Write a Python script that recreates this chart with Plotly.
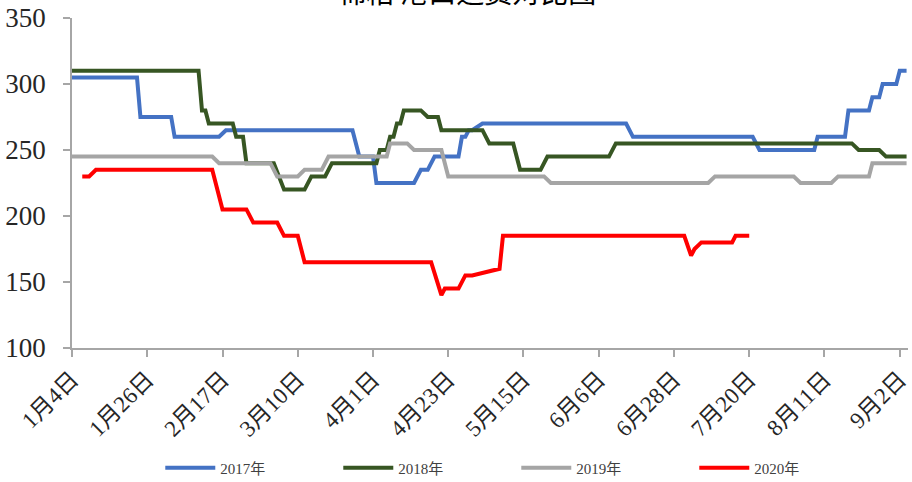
import plotly.graph_objects as go

# ---- data (2020 calendar used for the shared date axis) ----
dates_2017 = ["01-04","01-23","01-24","02-02","02-03","02-16","02-18","03-26","03-28","04-01","04-02",
              "04-13","04-15","04-17","04-19","04-26","04-27","04-28","04-29","04-30","05-03","06-14",
              "06-16","07-21","07-23","08-08","08-09","08-17","08-18","08-24","08-25","08-27","08-28",
              "09-01","09-02","09-04"]
vals_2017 = [305,305,275,275,260,260,265,265,245,245,225,
             225,235,235,245,245,260,260,265,265,270,270,
             260,260,250,250,260,260,280,280,290,290,300,
             300,310,310]

dates_2018 = ["01-04","02-10","02-11","02-12","02-13","02-20","02-21","02-23","02-24","03-03","03-06",
              "03-12","03-14","03-18","03-20","04-02","04-03","04-05","04-06","04-07","04-08","04-09",
              "04-10","04-15","04-17","04-20","04-21","05-03","05-05","05-12","05-14","05-20","05-22",
              "06-09","06-11","08-19","08-21","08-27","08-29","09-04"]
vals_2018 = [310,310,280,280,270,270,260,260,240,240,220,
             220,230,230,240,240,250,250,260,260,270,270,
             280,280,275,275,265,265,255,255,235,235,245,
             245,255,255,250,250,245,245]

dates_2019 = ["01-04","02-14","02-16","03-02","03-04","03-10","03-12","03-17","03-19","04-05","04-06",
              "04-11","04-13","04-21","04-23","05-21","05-23","07-08","07-10","08-02","08-04","08-13",
              "08-15","08-24","08-25","09-04"]
vals_2019 = [245,245,240,240,230,230,235,235,245,245,255,
             255,250,250,230,230,225,225,230,230,225,225,
             230,230,240,240]

dates_2020 = ["01-07","01-09","01-11","02-14","02-17","02-24","02-26","03-04","03-06","03-10","03-12",
              "04-18","04-21","04-22","04-26","04-28","04-30","05-08","05-09","07-01","07-03","07-04",
              "07-06","07-15","07-16","07-20"]
vals_2020 = [230,230,235,235,205,205,195,195,185,185,165,
             165,140,145,145,155,155,160,185,185,170,175,
             180,180,185,185]

series_names = ["2017年", "2018年", "2019年", "2020年"]
series_colors = ["#4472C4", "#375623", "#A5A5A5", "#FF0000"]

tick_dates = ["01-04","01-26","02-17","03-10","04-01","04-23","05-15","06-06","06-28","07-20","08-11","09-02"]
tick_labels = ["1月4日","1月26日","2月17日","3月10日","4月1日","4月23日","5月15日","6月6日",
               "6月28日","7月20日","8月11日","9月2日"]

title_text = "棉粕 港口运费对比图"

def full(ds):
    return ["2020-" + d for d in ds]

fig = go.Figure()
for name, ds, vs, col in zip(series_names,
                             [dates_2017, dates_2018, dates_2019, dates_2020],
                             [vals_2017, vals_2018, vals_2019, vals_2020],
                             series_colors):
    fig.add_trace(go.Scatter(x=full(ds), y=vs, mode="lines", name=name,
                             line=dict(color=col, width=4)))

x_font = dict(family="Liberation Serif, Noto Sans CJK SC", size=23, color="#262626")
y_font = dict(family="Liberation Serif, Noto Sans CJK SC", size=27, color="#262626")

fig.update_layout(
    width=912, height=482,
    margin=dict(l=72, r=4, t=18, b=134, autoexpand=False),
    paper_bgcolor="white", plot_bgcolor="white",
    showlegend=True,
    legend=dict(orientation="h", x=0.1056, xref="paper", y=0.029, yref="container",
                xanchor="left", yanchor="middle",
                font=dict(family="Liberation Serif, Noto Sans CJK SC", size=15, color="#404040"),
                entrywidth=113, entrywidthmode="pixels", itemwidth=50),
    annotations=[dict(text=title_text, xref="paper", yref="paper", x=0.4725, y=1.083,
                      xanchor="center", yanchor="middle", showarrow=False,
                      font=dict(family="Noto Sans CJK SC", size=28, color="#000000"))],
)
fig.update_xaxes(type="date", range=["2020-01-04", "2020-09-04 10:00"],
                 tickmode="array", tickvals=full(tick_dates), ticktext=tick_labels,
                 tickangle=-45, tickfont=x_font, automargin=False,
                 showgrid=False, zeroline=False,
                 showline=True, linecolor="#A6A6A6", linewidth=1.5,
                 ticks="outside", ticklen=7, tickcolor="#A6A6A6", tickwidth=1.5)
fig.update_yaxes(range=[100, 350], tickmode="array", tickvals=[100, 150, 200, 250, 300, 350],
                 tickfont=y_font, automargin=False, showgrid=False, zeroline=False,
                 showline=True, linecolor="#A6A6A6", linewidth=1.5,
                 ticks="outside", ticklen=7, tickcolor="#A6A6A6", tickwidth=1.5,
                 ticklabelstandoff=12)

fig.write_html("out.html", config={"displayModeBar": False},
               post_script="document.body.style.margin='0';document.body.style.overflow='hidden';")
